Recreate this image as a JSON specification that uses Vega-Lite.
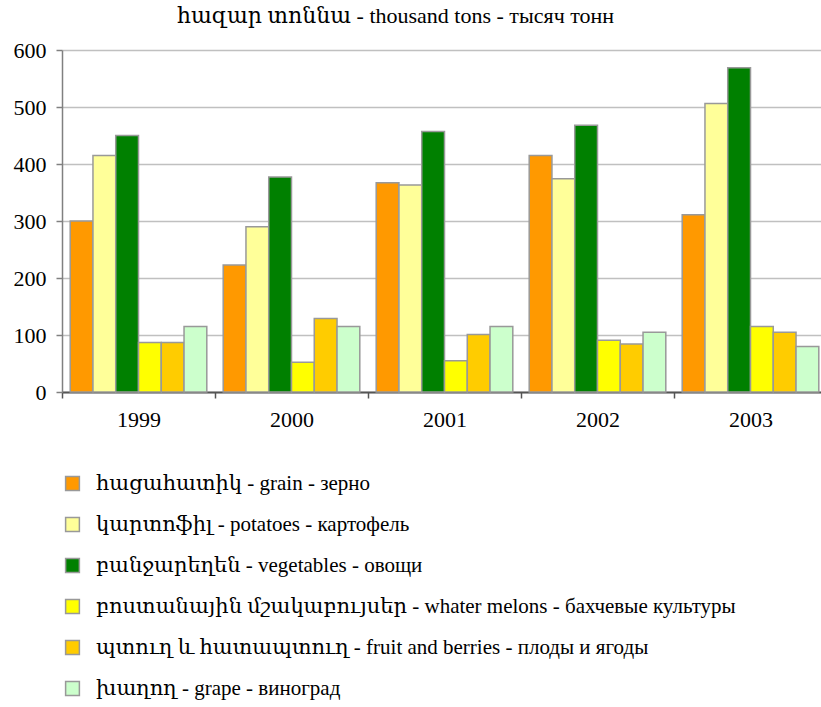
{
  "$schema": "https://vega.github.io/schema/vega-lite/v6.json",
  "autosize": {"type": "none"},
  "padding": {"left": 62, "top": 50, "right": 0, "bottom": 315},
  "width": 765,
  "height": 342,
  "background": "white",
  "title": {
    "text": "հազար տոննա - thousand tons - тысяч тонн",
    "font": "'Liberation Serif', 'DejaVu Serif', serif",
    "fontSize": 22,
    "fontWeight": "normal",
    "color": "black",
    "anchor": "start",
    "dx": 164,
    "offset": 11
  },
  "data": {
    "values": [
      {"year": "1999", "crop": "հացահատիկ - grain - зерно", "value": 300},
      {"year": "1999", "crop": "կարտոֆիլ - potatoes - картофель", "value": 415},
      {"year": "1999", "crop": "բանջարեղեն - vegetables - овощи", "value": 450},
      {"year": "1999", "crop": "բոստանային մշակաբույսեր - whater melons - бахчевые культуры", "value": 87},
      {"year": "1999", "crop": "պտուղ և հատապտուղ - fruit and berries - плоды и ягоды", "value": 87},
      {"year": "1999", "crop": "խաղող - grape - виноград", "value": 115},
      {"year": "2000", "crop": "հացահատիկ - grain - зерно", "value": 223},
      {"year": "2000", "crop": "կարտոֆիլ - potatoes - картофель", "value": 290},
      {"year": "2000", "crop": "բանջարեղեն - vegetables - овощи", "value": 377},
      {"year": "2000", "crop": "բոստանային մշակաբույսեր - whater melons - бахчевые культуры", "value": 52},
      {"year": "2000", "crop": "պտուղ և հատապտուղ - fruit and berries - плоды и ягоды", "value": 129},
      {"year": "2000", "crop": "խաղող - grape - виноград", "value": 115},
      {"year": "2001", "crop": "հացահատիկ - grain - зерно", "value": 367},
      {"year": "2001", "crop": "կարտոֆիլ - potatoes - картофель", "value": 363},
      {"year": "2001", "crop": "բանջարեղեն - vegetables - овощи", "value": 457},
      {"year": "2001", "crop": "բոստանային մշակաբույսեր - whater melons - бахчевые культуры", "value": 55},
      {"year": "2001", "crop": "պտուղ և հատապտուղ - fruit and berries - плоды и ягоды", "value": 101},
      {"year": "2001", "crop": "խաղող - grape - виноград", "value": 115},
      {"year": "2002", "crop": "հացահատիկ - grain - зерно", "value": 415},
      {"year": "2002", "crop": "կարտոֆիլ - potatoes - картофель", "value": 374},
      {"year": "2002", "crop": "բանջարեղեն - vegetables - овощи", "value": 468},
      {"year": "2002", "crop": "բոստանային մշակաբույսեր - whater melons - бахчевые культуры", "value": 91},
      {"year": "2002", "crop": "պտուղ և հատապտուղ - fruit and berries - плоды и ягоды", "value": 84},
      {"year": "2002", "crop": "խաղող - grape - виноград", "value": 105},
      {"year": "2003", "crop": "հացահատիկ - grain - зерно", "value": 311},
      {"year": "2003", "crop": "կարտոֆիլ - potatoes - картофель", "value": 506},
      {"year": "2003", "crop": "բանջարեղեն - vegetables - овощи", "value": 569},
      {"year": "2003", "crop": "բոստանային մշակաբույսեր - whater melons - бахчевые культуры", "value": 115},
      {"year": "2003", "crop": "պտուղ և հատապտուղ - fruit and berries - плоды и ягоды", "value": 105},
      {"year": "2003", "crop": "խաղող - grape - виноград", "value": 80}
    ]
  },
  "mark": {"type": "bar", "stroke": "#999999", "strokeWidth": 1.5},
  "encoding": {
    "x": {
      "field": "year",
      "type": "nominal",
      "scale": {"paddingInner": 0, "paddingOuter": 0},
      "axis": {
        "title": null,
        "labelAngle": 0,
        "labelFont": "'Liberation Serif', 'DejaVu Serif', serif",
        "labelFontSize": 22,
        "labelColor": "black",
        "labelPadding": 11,
        "tickBand": "extent",
        "tickSize": 6,
        "tickColor": "#555555",
        "tickWidth": 1.5,
        "domainColor": "#555555",
        "domainWidth": 2,
        "grid": false
      }
    },
    "xOffset": {
      "field": "crop",
      "type": "nominal",
      "sort": null,
      "scale": {"paddingInner": 0, "paddingOuter": 0.36}
    },
    "y": {
      "field": "value",
      "type": "quantitative",
      "scale": {"domain": [0, 600]},
      "axis": {
        "title": null,
        "values": [0, 100, 200, 300, 400, 500, 600],
        "labelFont": "'Liberation Serif', 'DejaVu Serif', serif",
        "labelFontSize": 22,
        "labelColor": "black",
        "labelPadding": 10,
        "tickSize": 6,
        "tickColor": "#808080",
        "tickWidth": 1.5,
        "domainColor": "#808080",
        "domainWidth": 1.5,
        "gridColor": "#c0c0c0",
        "gridWidth": 1.5
      }
    },
    "color": {
      "field": "crop",
      "type": "nominal",
      "sort": null,
      "scale": {
        "domain": [
          "հացահատիկ - grain - зерно",
          "կարտոֆիլ - potatoes - картофель",
          "բանջարեղեն - vegetables - овощи",
          "բոստանային մշակաբույսեր - whater melons - бахчевые культуры",
          "պտուղ և հատապտուղ - fruit and berries - плоды и ягоды",
          "խաղող - grape - виноград"
        ],
        "range": ["#ff9900", "#ffff99", "#008000", "#ffff00", "#ffcc00", "#ccffcc"]
      },
      "legend": {
        "title": null,
        "orient": "none",
        "legendX": 0,
        "legendY": 423,
        "direction": "vertical",
        "symbolType": "square",
        "symbolSize": 190,
        "symbolStrokeColor": "#999999",
        "symbolStrokeWidth": 1.5,
        "labelFont": "'Liberation Serif', 'DejaVu Serif', serif",
        "labelFontSize": 21,
        "labelColor": "black",
        "labelLimit": 800,
        "labelOffset": 13,
        "rowPadding": 19
      }
    }
  },
  "config": {"view": {"stroke": null}}
}
